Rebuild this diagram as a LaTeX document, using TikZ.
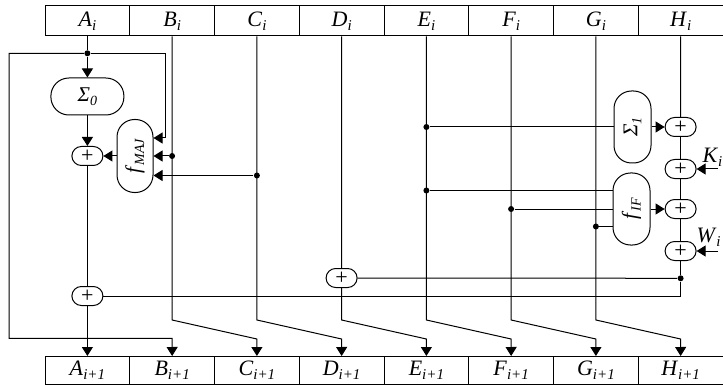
\documentclass[tikz,border=0pt]{standalone}
\usepackage{fontspec}
\setmainfont{Liberation Serif}
\usetikzlibrary{arrows.meta}
\newcommand\lb[2]{\textit{#1}\raisebox{-0.4ex}{\fontsize{15}{15}\selectfont\textit{#2}}}
\newcommand\lbs[2]{\textit{#1}\raisebox{-0.4ex}{\fontsize{14}{14}\selectfont\textit{#2}}}
\begin{document}
\begin{tikzpicture}[x=1pt,y=-1pt,line width=1pt,
  >={Triangle[width=11pt,length=9pt]},
  cell/.style={draw,minimum width=84.75pt,minimum height=30pt,inner sep=0pt,font=\fontsize{22}{24}\selectfont},
  bcell/.style={cell,minimum height=28pt},
  fbox/.style={draw,fill=white,inner sep=0pt,font=\fontsize{21}{22}\selectfont},
  hfun/.style={fbox,minimum width=73pt,minimum height=37pt,rounded corners=18pt},
  vfun/.style={fbox,minimum width=36pt,minimum height=73pt,rounded corners=17.5pt},
  plus/.style={draw,fill=white,minimum width=31pt,minimum height=19pt,inner sep=0pt,rounded corners=9.5pt,font=\fontsize{22}{22}\selectfont},
  dot/.style={circle,fill,inner sep=0pt,minimum size=6pt},
  lab/.style={font=\fontsize{22}{24}\selectfont,inner sep=0pt}]
\useasboundingbox (0,0) rectangle (723,385);
% top and bottom registers
\foreach \n/\k in {A/0,B/1,C/2,D/3,E/4,F/5,G/6,H/7}{
  \node[cell]  (t\n) at ({87.4+84.75*\k},21) {\lb{\n}{i}};
  \node[bcell] (b\n) at ({87.4+84.75*\k},370.5) {\lb{\n}{i+1}};
}
% function blocks
\node[hfun] (S0) at (87.4,96.5) {\lbs{Σ}{0}};
\node[vfun] (MAJ) at (135,156) {\rotatebox{90}{\lbs{f}{MAJ}}};
\node[vfun,minimum width=37pt,minimum height=72pt] (S1) at (632.5,127) {\rotatebox{90}{\lbs{Σ}{1}}};
\node[vfun,minimum width=37pt,minimum height=72pt] (IF) at (631.5,209) {\rotatebox{90}{\lbs{f}{IF}}};
% adders
\node[plus] (p1) at (87.4,156) {+};
\node[plus] (p2) at (87.4,296) {+};
\node[plus] (pD) at (341.6,278) {+};
\node[plus] (h1) at (680.6,127) {+};
\node[plus] (h2) at (680.6,169) {+};
\node[plus] (h3) at (680.6,209) {+};
\node[plus] (h4) at (680.6,251) {+};
% junctions
\node[dot] (jA) at (87.4,53.3) {};
\node[dot] (jB) at (172.1,156) {};
\node[dot] (jC) at (256.9,175.5) {};
\node[dot] (jE1) at (426.4,127) {};
\node[dot] (jE2) at (426.4,190.5) {};
\node[dot] (jF) at (511.1,209) {};
\node[dot] (jG) at (595.9,226.5) {};
\node[dot] (jH) at (680.6,278.3) {};
% free ends
\coordinate (kin) at (718,169);
\coordinate (win) at (718,251);
\node[lab,anchor=west] (K) at (702,157) {\lb{K}{i}};
\node[lab,anchor=west] (W) at (696,237) {\lb{W}{i}};
% A column
\draw (tA.south) -- (jA);
\draw[->] (jA) -- (S0.north);
\draw[->] (S0.south) -- (p1.north);
\draw[->] (MAJ.west) -- (p1.east);
\draw (p1.south) -- (p2.north);
\draw[->] (p2.south) -- (bA.north);
\draw[->] (jA) -- (9,53.3) -- (9,338.3) -- (172.1,338.3) -- (bB.north);
\draw[->] (jA) -- (165.7,53.3) -- (165.7,138) -- (MAJ.east |- 0,138);
% B column
\draw[->] (tB.south) -- (172.1,320) -- (256.9,339) -- (bC.north);
\draw[->] (jB) -- (MAJ.east |- jB);
% C column
\draw[->] (tC.south) -- (256.9,320) -- (341.6,339) -- (bD.north);
\draw[->] (jC) -- (MAJ.east |- jC);
% D column
\draw (tD.south) -- (pD.north);
\draw[->] (pD.south) -- (341.6,320) -- (426.4,339) -- (bE.north);
% E column
\draw[->] (tE.south) -- (426.4,320) -- (511.1,339) -- (bF.north);
\draw (jE1) -- (S1.west);
\draw (jE2) -- (IF.west |- jE2);
% F column
\draw[->] (tF.south) -- (511.1,320) -- (595.9,339) -- (bG.north);
\draw (jF) -- (IF.west |- jF);
% G column
\draw[->] (tG.south) -- (595.9,320) -- (680.6,339) -- (bH.north);
\draw (jG) -- (IF.west |- jG);
% H column
\draw (tH.south) -- (h1.north);
\draw (h1.south) -- (h2.north);
\draw (h2.south) -- (h3.north);
\draw (h3.south) -- (h4.north);
\draw (h4.south) -- (jH);
\draw (jH) -- (pD.east);
\draw (jH) -- (680.6,296) -- (p2.east);
\draw[->] (S1.east) -- (h1.west);
\draw[->] (IF.east) -- (h3.west);
\draw[->] (kin) -- (h2.east);
\draw[->] (win) -- (h4.east);
\end{tikzpicture}
\end{document}
